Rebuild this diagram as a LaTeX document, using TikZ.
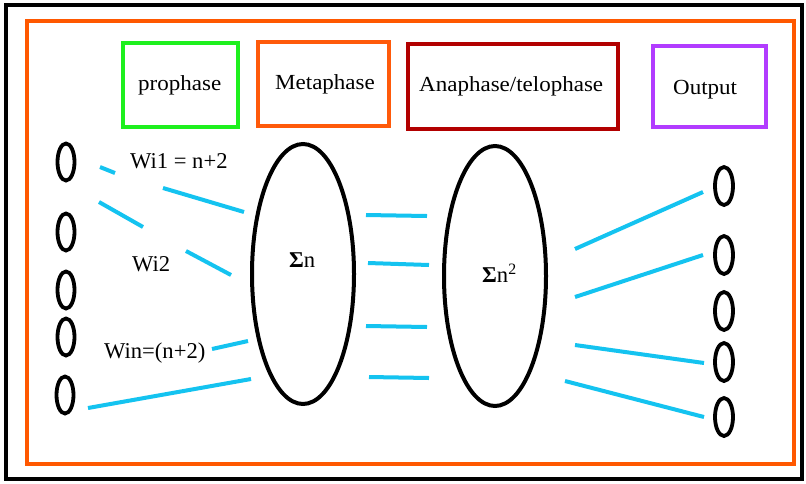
\documentclass[tikz,border=0pt]{standalone}
\usepackage{fontspec}
\usepackage{graphicx}
\setmainfont{Liberation Serif}
\usetikzlibrary{shapes.geometric}
\definecolor{frameorange}{RGB}{255,88,0}
\definecolor{boxgreen}{RGB}{30,240,30}
\definecolor{boxorange}{RGB}{255,90,10}
\definecolor{boxred}{RGB}{178,0,0}
\definecolor{boxpurple}{RGB}{178,60,255}
\definecolor{wire}{RGB}{20,195,240}
\newcommand{\tx}[1]{\scalebox{1.07}[1]{#1}}
\tikzset{
  phasebox/.style={draw, line width=4pt, rectangle, inner sep=0pt},
  smallcell/.style={draw, line width=3.8pt, ellipse, inner sep=0pt, minimum width=17pt, minimum height=37pt},
  bigcell/.style={draw, line width=4pt, ellipse, inner sep=0pt, minimum width=102pt, minimum height=260pt},
  wireline/.style={draw=wire, line width=4pt},
  txt/.style={inner sep=0pt, anchor=base west, font=\fontsize{21.5}{25}\selectfont},
  wtxt/.style={inner sep=0pt, anchor=base west, font=\fontsize{22.6}{26}\selectfont}
}
\begin{document}
\begin{tikzpicture}[x=1pt,y=-1pt]
\useasboundingbox (0,0) rectangle (806,483);
\fill[white] (0,0) rectangle (806,483);
% frames
\draw[line width=4pt, black] (6,5) rectangle (802,479);
\draw[line width=4pt, frameorange] (27,21) rectangle (794,464);
% phase boxes
\node[phasebox, draw=boxgreen, minimum width=115pt, minimum height=84pt] (pro) at (180.5,85) {};
\node[txt] (protext) at (138,90) {\tx{prophase}};
\node[phasebox, draw=boxorange, minimum width=131pt, minimum height=84pt] (meta) at (323.5,84) {};
\node[txt] (metatext) at (275,89) {\tx{Metaphase}};
\node[phasebox, draw=boxred, minimum width=210pt, minimum height=85pt] (ana) at (513,86.5) {};
\node[txt] (anatext) at (419,91) {\tx{Anaphase/telophase}};
\node[phasebox, draw=boxpurple, minimum width=113pt, minimum height=81pt] (out) at (709.5,86.5) {};
\node[txt] (outtext) at (673,94) {\tx{Output}};
% input cells
\node[smallcell] (i1) at (66,162) {};
\node[smallcell] (i2) at (66,232) {};
\node[smallcell] (i3) at (66,290) {};
\node[smallcell] (i4) at (66,337) {};
\node[smallcell] (i5) at (65,395) {};
% big cells
\node[bigcell] (s1) at (303,274) {};
\node[wtxt] (s1text) at (289,267) {\textbf{Σ}n};
\node[bigcell] (s2) at (495,276) {};
\node[wtxt] (s2text) at (482,282) {\textbf{Σ}n\textsuperscript{2}};
% output cells
\node[smallcell, minimum width=18pt, minimum height=38pt] (o1) at (724,186) {};
\node[smallcell, minimum width=18pt, minimum height=38pt] (o2) at (724,255) {};
\node[smallcell, minimum width=18pt, minimum height=38pt] (o3) at (724,311) {};
\node[smallcell, minimum width=18pt, minimum height=38pt] (o4) at (724,362) {};
\node[smallcell, minimum width=18pt, minimum height=38pt] (o5) at (724,417) {};
% labels
\node[wtxt] (w1) at (130,168) {Wi1 = n+2};
\node[wtxt] (w2) at (132,271) {Wi2};
\node[wtxt] (wn) at (104,358) {Win=(n+2)};
% wire end points
\coordinate (a1) at (100,167); \coordinate (a2) at (115,173);
\coordinate (b1) at (163,188); \coordinate (b2) at (244,212);
\coordinate (c1) at (99,202);  \coordinate (c2) at (143,227);
\coordinate (d1) at (186,251); \coordinate (d2) at (231,275);
\coordinate (e1) at (212,349); \coordinate (e2) at (248,341);
\coordinate (f1) at (88,408);  \coordinate (f2) at (251,379);
\coordinate (m1a) at (366,215); \coordinate (m1b) at (427,216);
\coordinate (m2a) at (368,263); \coordinate (m2b) at (429,265);
\coordinate (m3a) at (366,326); \coordinate (m3b) at (427,327);
\coordinate (m4a) at (369,377); \coordinate (m4b) at (429,378);
\coordinate (r1a) at (575,249); \coordinate (r1b) at (703,192);
\coordinate (r2a) at (575,297); \coordinate (r2b) at (703,255);
\coordinate (r3a) at (575,345); \coordinate (r3b) at (704,363);
\coordinate (r4a) at (565,381); \coordinate (r4b) at (704,417);
% wires
\foreach \p/\q in {a1/a2,b1/b2,c1/c2,d1/d2,e1/e2,f1/f2,m1a/m1b,m2a/m2b,m3a/m3b,m4a/m4b,r1a/r1b,r2a/r2b,r3a/r3b,r4a/r4b}
  \draw[wireline] (\p) -- (\q);
\end{tikzpicture}
\end{document}
